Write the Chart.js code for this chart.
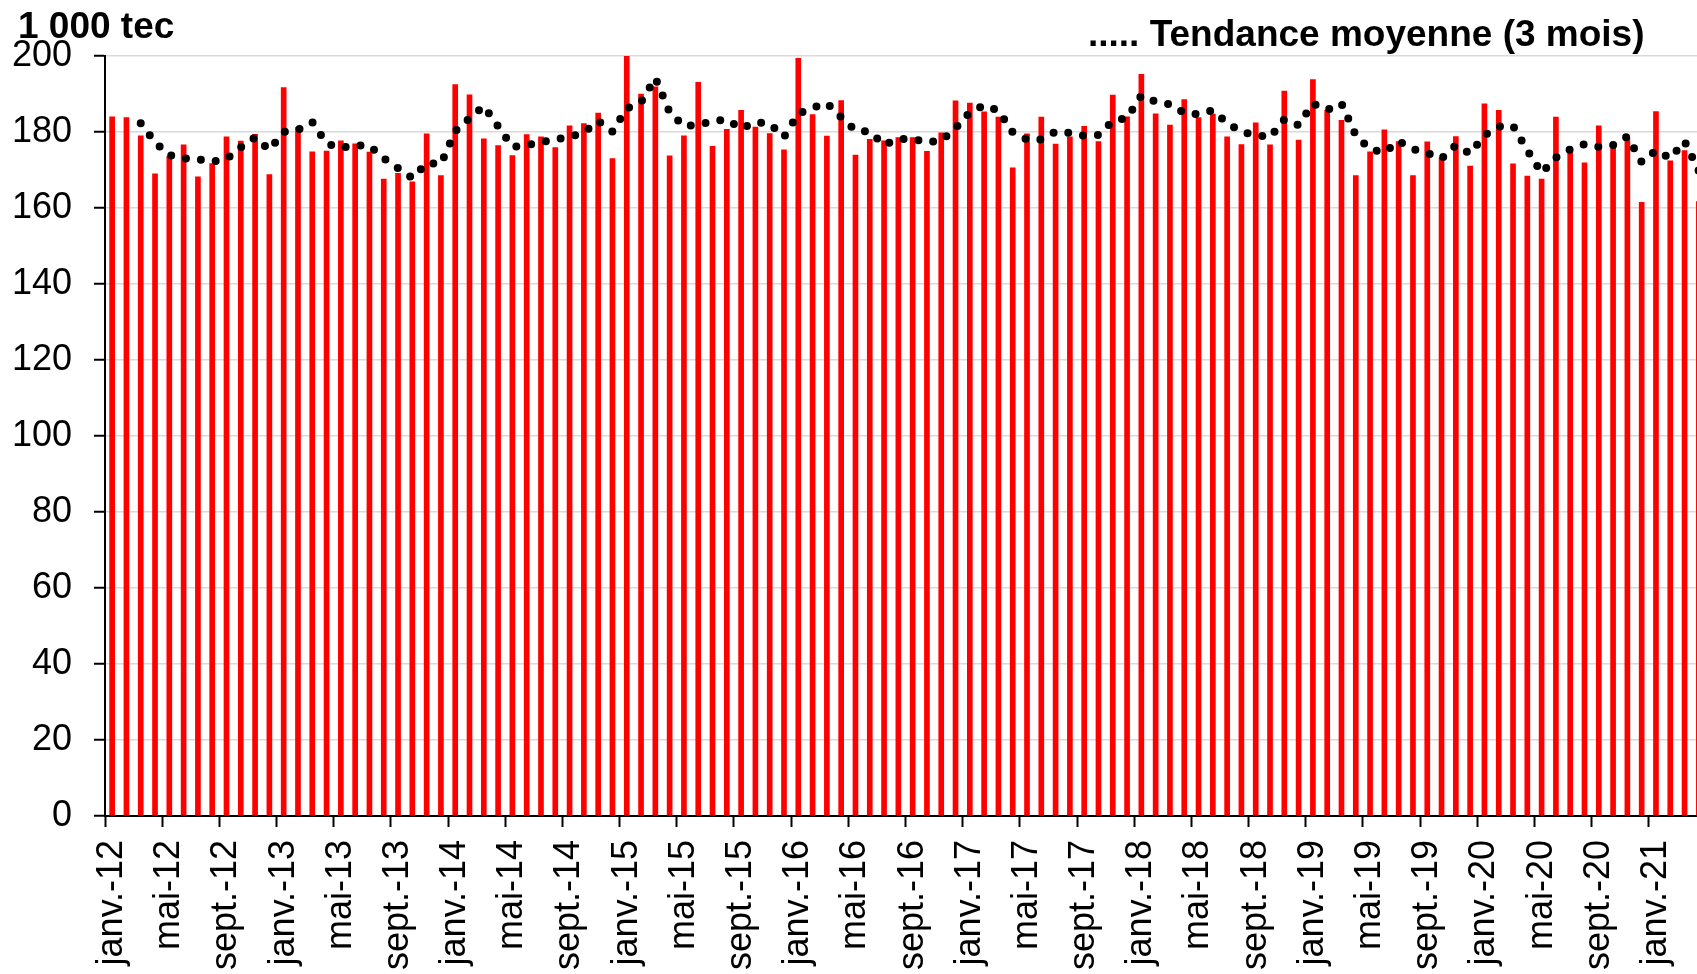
<!DOCTYPE html>
<html lang="fr">
<head>
<meta charset="utf-8">
<title>Production mensuelle - 1 000 tec</title>
<script src="https://cdn.jsdelivr.net/npm/chart.js@4.4.1/dist/chart.umd.min.js"></script>
<style>
    html, body { margin: 0; padding: 0; background: #fff; overflow: hidden; }
    #wrap { width: 1706px; height: 974px; }
</style>
</head>
<body>
<div id="wrap"><canvas id="prod-chart" width="1706" height="974"></canvas></div>
<script>
const MONTHS = ['janv.', 'févr.', 'mars', 'avr.', 'mai', 'juin', 'juil.', 'août', 'sept.', 'oct.', 'nov.', 'déc.'];
const FONT = '"Liberation Sans", Arial, sans-serif';

// production mensuelle (1 000 tec), janv. 2012 -> avr. 2021
const production = [
    184.0, 183.8, 179.0, 169.0, 173.6, 176.6, 168.2, 171.7, 178.7, 177.6, 179.4, 168.8,
    191.7, 181.2, 174.8, 175.0, 177.7, 176.9, 174.7, 167.6, 169.1, 166.9, 179.5, 168.5,
    192.5, 189.8, 178.2, 176.4, 173.8, 179.3, 178.7, 175.9, 181.6, 182.2, 185.0, 173.0,
    200.6, 190.0, 191.9, 173.7, 179.0, 193.1, 176.2, 180.7, 185.7, 181.3, 179.6, 175.3,
    199.4, 184.6, 178.9, 188.3, 173.9, 178.1, 177.7, 178.5, 178.5, 174.9, 179.8, 188.2,
    187.6, 185.3, 183.9, 170.6, 179.5, 183.9, 176.8, 178.7, 181.5, 177.5, 189.7, 184.0,
    195.2, 184.8, 181.8, 188.5, 183.8, 184.7, 178.7, 176.7, 182.4, 176.6, 190.8, 177.9,
    193.8, 185.7, 183.1, 168.5, 174.8, 180.6, 177.5, 168.5, 177.4, 173.2, 178.8, 171.0,
    187.4, 185.7, 171.6, 168.4, 167.6, 183.9, 174.7, 171.9, 181.6, 176.2, 178.5, 161.5,
    185.4, 172.4, 175.1, 161.7
];

// tendance moyenne (3 mois)
const trend = [
    null, null, 182.3, 177.3, 173.9, 173.1, 172.8, 172.2, 172.9, 176.0, 178.6, 175.3,
    180.0, 180.6, 182.6, 177.0, 175.8, 176.5, 176.4, 173.1, 170.5, 167.9, 171.8, 171.6,
    180.2, 183.6, 186.8, 181.5, 176.1, 176.5, 177.3, 178.0, 178.7, 179.9, 182.9, 180.1,
    186.2, 187.9, 194.2, 185.2, 181.5, 181.9, 182.8, 183.3, 180.9, 182.6, 182.2, 178.7,
    184.8, 186.4, 187.6, 183.9, 180.4, 180.1, 176.6, 178.1, 178.2, 177.3, 177.7, 181.0,
    185.2, 187.0, 185.6, 179.9, 178.0, 178.0, 180.1, 179.8, 179.0, 179.2, 182.9, 183.7,
    189.6, 188.0, 187.3, 185.0, 184.7, 185.7, 182.4, 180.0, 179.3, 178.6, 183.3, 181.8,
    187.5, 185.8, 187.5, 179.1, 175.5, 174.6, 177.6, 175.5, 174.5, 173.0, 176.5, 174.3,
    179.1, 181.4, 181.6, 175.2, 169.2, 173.3, 175.4, 176.8, 176.1, 176.6, 178.8, 172.1,
    175.1, 173.1, 177.6, 169.7
];

const labels = production.map((_, i) => `${MONTHS[i % 12]}-${12 + Math.floor(i / 12)}`);

const headerText = {
    id: 'headerText',
    afterDraw(chart) {
        const ctx = chart.ctx;
        ctx.save();
        ctx.fillStyle = '#000';
        ctx.textAlign = 'left';
        ctx.textBaseline = 'alphabetic';
        ctx.font = `bold 37px ${FONT}`;
        ctx.fillText('1 000 tec', 18, 38);
        ctx.font = `bold 37px ${FONT}`;
        ctx.fillText('..... Tendance moyenne (3 mois)', 1088, 46);
        ctx.restore();
    }
};

new Chart(document.getElementById('prod-chart'), {
    type: 'bar',
    data: {
        labels,
        datasets: [
            {
                type: 'line',
                label: 'Tendance moyenne (3 mois)',
                data: trend,
                borderColor: '#000',
                borderWidth: 8,
                borderDash: [0, 15],
                borderCapStyle: 'round',
                pointRadius: 0,
                tension: 0,
                fill: false,
                order: 0
            },
            {
                type: 'bar',
                label: 'Production',
                data: production,
                backgroundColor: '#ff0000',
                barThickness: 5,
                order: 1
            }
        ]
    },
    options: {
        responsive: false,
        animation: false,
        layout: { autoPadding: false, padding: { top: 56, left: 0, right: 0, bottom: 0 } },
        plugins: { legend: { display: false }, tooltip: { enabled: false } },
        scales: {
            x: {
                offset: true,
                grid: {
                    offset: true,
                    drawOnChartArea: false,
                    tickLength: 11,
                    tickWidth: 2,
                    tickColor: ctx => (ctx.index % 4 === 0 ? '#000' : 'rgba(0,0,0,0)')
                },
                border: { color: '#000', width: 2 },
                ticks: {
                    autoSkip: false,
                    minRotation: 90,
                    maxRotation: 90,
                    padding: 13,
                    color: '#000',
                    font: { family: FONT, size: 36 },
                    callback: (v, i) => (i % 4 === 0 ? labels[i] : '')
                },
                afterFit: s => {
                    s.height = 158;
                    s.paddingLeft = 0;
                    s.paddingRight = 0;
                }
            },
            y: {
                min: 0,
                max: 200,
                ticks: { stepSize: 20, padding: 22, color: '#000', font: { family: FONT, size: 36 } },
                grid: { color: '#d9d9d9', lineWidth: 1.5, tickLength: 11, tickColor: '#000', tickWidth: 2 },
                border: { color: '#000', width: 2 },
                afterFit: s => {
                    s.width = 105;
                    s.paddingTop = 0;
                    s.paddingBottom = 0;
                }
            }
        }
    },
    plugins: [headerText]
});
</script>
</body>
</html>
